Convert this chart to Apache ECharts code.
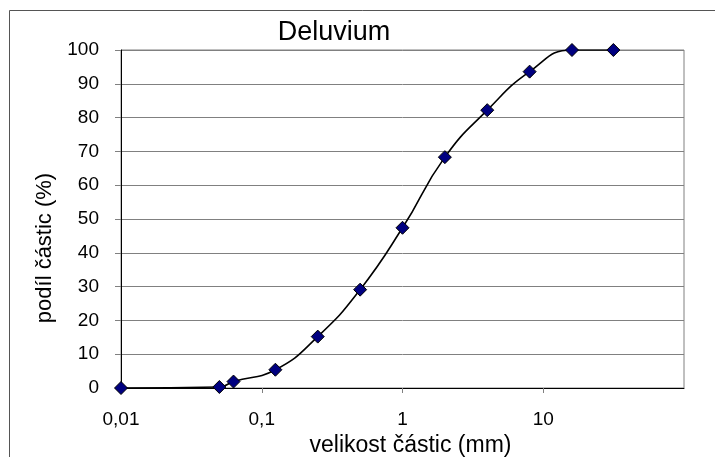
<!DOCTYPE html>
<html>
<head>
<meta charset="utf-8">
<script src="https://cdn.jsdelivr.net/npm/echarts@6/dist/echarts.min.js"></script>
<style>
html,body{margin:0;padding:0;background:#fff;}
#c{width:715px;height:457px;}
</style>
</head>
<body>
<div id="c"></div>
<script>
var sizes = [0.01, 0.05, 0.063, 0.125, 0.25, 0.5, 1, 2, 4, 8, 16, 31.5];
var shares = [0, 0.3, 1.9, 5.4, 15.2, 29.1, 47.4, 68.3, 82.2, 93.6, 100, 100];
var xTickValues = [0.01, 0.1, 1, 10];
var xTickLabels = ['0,01', '0,1', '1', '10'];
var titleText = 'Deluvium';
var xTitle = 'velikost částic (mm)';
var yTitle = 'podíl částic (%)';

var chart = echarts.init(document.getElementById('c'));
var font = 'Liberation Sans, Arial, sans-serif';
chart.setOption({
  animation: false,
  backgroundColor: '#fff',
  title: {
    text: titleText,
    left: 329, top: 14, textAlign: 'center',
    textStyle: {fontFamily: font, fontSize: 27, fontWeight: 'normal', color: '#000'}
  },
  graphic: [{
    type: 'rect', silent: true, z: -1,
    shape: {x: 9.5, y: 10.5, width: 800, height: 600},
    style: {fill: 'none', stroke: '#555', lineWidth: 1}
  }],
  grid: {
    left: 121, top: 50, right: 31, bottom: 69,
    outerBoundsMode: 'none', containLabel: false,
    show: true, borderColor: '#808080', borderWidth: 1
  },
  xAxis: {
    type: 'log', logBase: 10, min: 0.01, max: 100,
    name: xTitle, nameLocation: 'middle', nameGap: 44,
    nameTextStyle: {fontFamily: font, fontSize: 23, color: '#000', padding: [0, 0, 0, 16]},
    axisLine: {show: true, lineStyle: {color: '#000', width: 1}},
    axisTick: {show: true, length: 5, lineStyle: {color: '#808080'}, customValues: [0.1, 1, 10]},
    splitLine: {show: false},
    minorTick: {show: false},
    axisLabel: {
      fontFamily: font, fontSize: 19, color: '#000', margin: 22,
      customValues: xTickValues,
      formatter: function (v) {
        for (var i = 0; i < xTickValues.length; i++) {
          if (Math.abs(Math.log10(v) - Math.log10(xTickValues[i])) < 1e-6) return xTickLabels[i];
        }
        return '';
      }
    }
  },
  yAxis: {
    type: 'value', min: 0, max: 100, interval: 10,
    name: yTitle, nameLocation: 'middle', nameGap: 61,
    nameTextStyle: {fontFamily: font, fontSize: 22, color: '#000', padding: [0, 58, 0, 0]},
    axisLine: {show: true, lineStyle: {color: '#000', width: 1}},
    axisTick: {show: true, length: 6, lineStyle: {color: '#808080'}},
    splitLine: {show: true, lineStyle: {color: '#808080', width: 1}},
    axisLabel: {fontFamily: font, fontSize: 19, color: '#000', margin: 22}
  },
  series: [{
    type: 'line',
    data: sizes.map(function (s, i) { return [s, shares[i]]; }),
    smooth: 0.5,
    symbol: 'diamond', symbolSize: 13,
    lineStyle: {color: '#000', width: 1.6},
    itemStyle: {color: '#000080', borderColor: '#000', borderWidth: 1},
    z: 5
  }]
});
</script>
</body>
</html>
